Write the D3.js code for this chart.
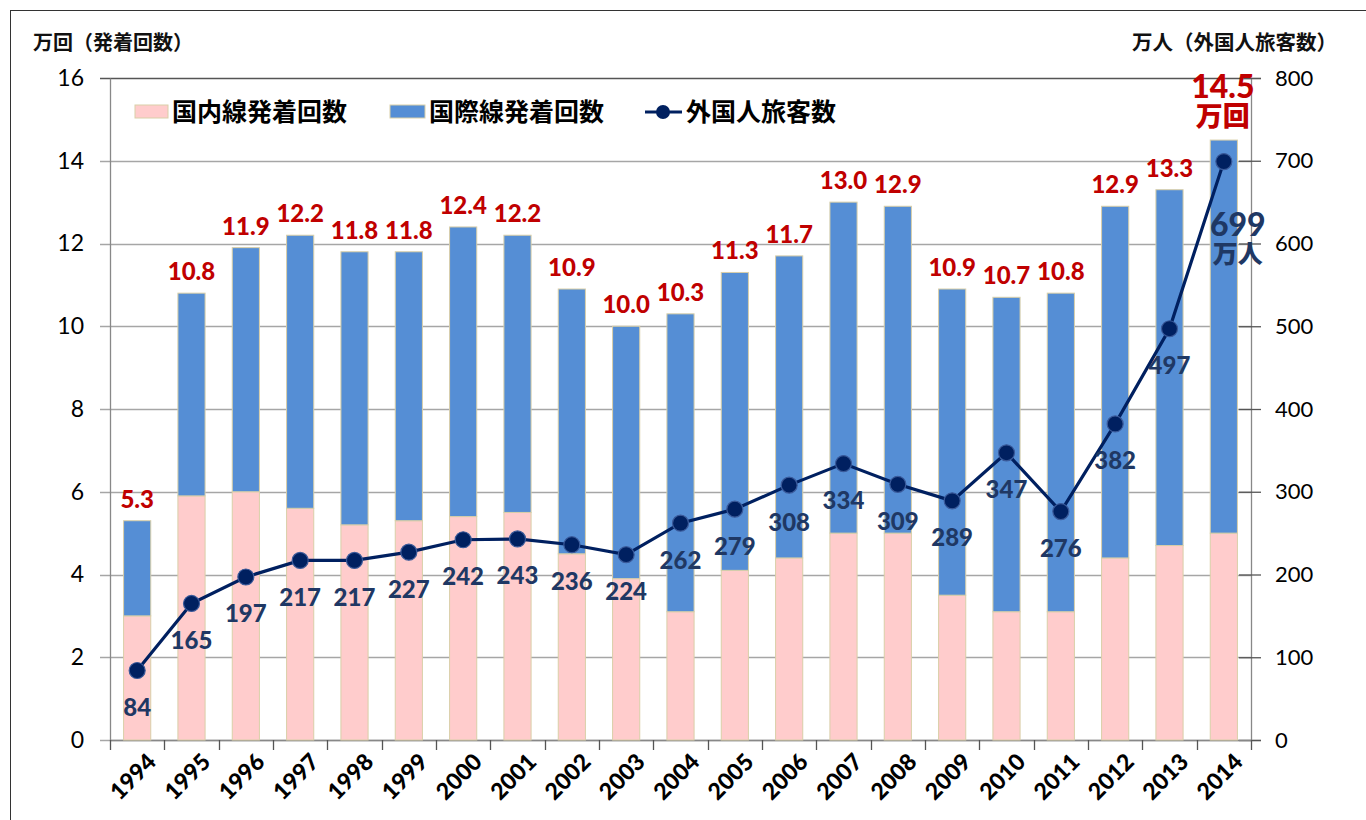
<!DOCTYPE html>
<html>
<head>
<meta charset="utf-8">
<script src="https://cdn.jsdelivr.net/npm/d3@7"></script>
<style>
  body { margin: 0; background: #fff; }
  svg { display: block; }
  text { font-family: Lato, "Noto Sans CJK JP", sans-serif; }
</style>
</head>
<body>
<svg id="chart" width="1366" height="820"></svg>
<script>
// data
var years = ["1994","1995","1996","1997","1998","1999","2000","2001","2002","2003","2004",
             "2005","2006","2007","2008","2009","2010","2011","2012","2013","2014"];
var domestic =      [3.0, 5.9, 6.0, 5.6, 5.2, 5.3, 5.4, 5.5, 4.5, 3.9, 3.1,
                     4.1, 4.4, 5.0, 5.0, 3.5, 3.1, 3.1, 4.4, 4.7, 5.0];
var international = [2.3, 4.9, 5.9, 6.6, 6.6, 6.5, 7.0, 6.7, 6.4, 6.1, 7.2,
                     7.2, 7.3, 8.0, 7.9, 7.4, 7.6, 7.7, 8.5, 8.6, 9.5];
var visitors = [84, 165, 197, 217, 217, 227, 242, 243, 236, 224, 262,
                279, 308, 334, 309, 289, 347, 276, 382, 497, 699];
var leftTicks = [0, 2, 4, 6, 8, 10, 12, 14, 16];
var rightTicks = [0, 100, 200, 300, 400, 500, 600, 700, 800];

var pink = "#ffcccc", blue = "#558ed5", navy = "#002060", red = "#c00000", labelNavy = "#1f3864";

var svg = d3.select("#chart");
var plotLeft = 110, plotRight = 1251, plotTop = 78, plotBottom = 740;

var x = d3.scaleBand().domain(years).range([plotLeft, plotRight]).paddingInner(0.5).paddingOuter(0.25);
var y = d3.scaleLinear().domain([0, 16]).range([plotBottom, plotTop]);
var y2 = d3.scaleLinear().domain([0, 800]).range([plotBottom, plotTop]);

// outer frame
svg.append("rect").attr("x", 10.5).attr("y", 10.5).attr("width", 1400).attr("height", 900)
    .attr("fill", "none").attr("stroke", "#333").attr("stroke-width", 1);

// grid lines
svg.append("g").selectAll("line").data(leftTicks).enter().append("line")
    .attr("x1", plotLeft - 10).attr("x2", plotRight)
    .attr("y1", function(d) { return Math.round(y(d)) + 0.5; })
    .attr("y2", function(d) { return Math.round(y(d)) + 0.5; })
    .attr("stroke", function(d) { return d == 16 ? "#555" : "#a6a6a6"; })
    .attr("stroke-width", 1.3);

// left axis
var gl = svg.append("g").attr("transform", "translate(" + plotLeft + ",0)")
    .call(d3.axisLeft(y).tickValues(leftTicks).tickSize(0).tickPadding(26));
gl.select(".domain").attr("stroke", "#888").attr("stroke-width", 1.3);
gl.selectAll("text").attr("font-size", 23).attr("fill", "#000").attr("font-family", "Lato, sans-serif");

// right axis
var gr = svg.append("g").attr("transform", "translate(" + plotRight + ",0)")
    .call(d3.axisRight(y2).tickValues(rightTicks).tickSize(10).tickPadding(14));
gr.select(".domain").attr("stroke", "#888").attr("stroke-width", 1.3);
gr.selectAll(".tick line").attr("x1", -12).attr("stroke", "#555").attr("stroke-width", 1.3);
gr.selectAll("text").attr("font-size", 22).attr("fill", "#000").attr("font-family", "Lato, sans-serif");

// bottom axis
var step = x.step();
svg.append("line").attr("x1", plotLeft).attr("x2", plotRight)
    .attr("y1", plotBottom + 0.5).attr("y2", plotBottom + 0.5)
    .attr("stroke", "#888").attr("stroke-width", 1.3);
svg.append("g").selectAll("line").data(d3.range(years.length + 1)).enter().append("line")
    .attr("x1", function(i) { return Math.round(plotLeft + i * step) + 0.5; })
    .attr("x2", function(i) { return Math.round(plotLeft + i * step) + 0.5; })
    .attr("y1", plotBottom).attr("y2", plotBottom + 10)
    .attr("stroke", "#555").attr("stroke-width", 1.3);
svg.append("g").selectAll("text").data(years).enter().append("text")
    .attr("transform", function(d) {
        return "translate(" + (x(d) + x.bandwidth() / 2 + 9) + "," + (plotBottom + 12) + ") rotate(-45)";
    })
    .attr("text-anchor", "end").attr("dy", "0.7em")
    .attr("font-size", 23).attr("font-weight", 900).attr("fill", "#000")
    .text(function(d) { return d; });

// stacked bars
var rows = years.map(function(yr, i) {
    return { year: yr, dom: domestic[i], intl: international[i], vis: visitors[i] };
});
var bars = svg.append("g").selectAll("g").data(rows).enter().append("g");
bars.append("rect")
    .attr("x", function(d) { return x(d.year); })
    .attr("width", x.bandwidth())
    .attr("y", function(d) { return y(d.dom); })
    .attr("height", function(d) { return y(0) - y(d.dom); })
    .attr("fill", pink).attr("stroke", "#d9cfa8").attr("stroke-width", 1);
bars.append("rect")
    .attr("x", function(d) { return x(d.year); })
    .attr("width", x.bandwidth())
    .attr("y", function(d) { return y(d.dom + d.intl); })
    .attr("height", function(d) { return y(d.dom) - y(d.dom + d.intl); })
    .attr("fill", blue).attr("stroke", "#d9cfa8").attr("stroke-width", 1);

// total labels
var last = years.length - 1;
svg.append("g").selectAll("text").data(rows.slice(0, last)).enter().append("text")
    .attr("x", function(d) { return x(d.year) + x.bandwidth() / 2; })
    .attr("y", function(d) { return y(d.dom + d.intl) - 13; })
    .attr("text-anchor", "middle").attr("font-size", 24).attr("font-weight", 900)
    .attr("fill", red)
    .text(function(d) { return (d.dom + d.intl).toFixed(1); });
var lastRow = rows[last];
var tl = svg.append("text")
    .attr("x", x(lastRow.year) + x.bandwidth() / 2 - 1)
    .attr("y", 98).attr("text-anchor", "middle")
    .attr("font-size", 32).attr("font-weight", 900).attr("fill", red);
tl.append("tspan").text((lastRow.dom + lastRow.intl).toFixed(1));
tl.append("tspan").attr("x", x(lastRow.year) + x.bandwidth() / 2 - 1).attr("dy", 28)
    .attr("font-family", "'Noto Sans CJK JP', sans-serif").attr("font-size", 27).text("万回");

// visitors line
var cx = function(d) { return x(d.year) + x.bandwidth() / 2; };
svg.append("path").datum(rows)
    .attr("d", d3.line().x(cx).y(function(d) { return y2(d.vis); }))
    .attr("fill", "none").attr("stroke", navy).attr("stroke-width", 3.2);
svg.append("g").selectAll("circle").data(rows).enter().append("circle")
    .attr("cx", cx).attr("cy", function(d) { return y2(d.vis); })
    .attr("r", 8).attr("fill", navy).attr("stroke", "#3a5a9a").attr("stroke-width", 1.2);

svg.append("g").selectAll("text").data(rows.slice(0, last)).enter().append("text")
    .attr("x", cx)
    .attr("y", function(d) { return y2(d.vis) + 37; })
    .attr("dy", "0.35em")
    .attr("text-anchor", "middle").attr("font-size", 24).attr("font-weight", 900)
    .attr("fill", labelNavy)
    .text(function(d) { return d.vis; });
var vl = svg.append("text")
    .attr("x", cx(lastRow) + 14).attr("y", y2(lastRow.vis) + 74)
    .attr("text-anchor", "middle").attr("font-size", 32).attr("font-weight", 900).attr("fill", labelNavy);
vl.append("tspan").text(lastRow.vis);
vl.append("tspan").attr("x", cx(lastRow) + 14).attr("dy", 27)
    .attr("font-family", "'Noto Sans CJK JP', sans-serif").attr("font-size", 25).text("万人");

// axis titles
svg.append("text").attr("x", 33).attr("y", 50)
    .attr("font-family", "'Noto Sans CJK JP', sans-serif").attr("font-size", 20).attr("font-weight", "bold")
    .attr("fill", "#111").text("万回（発着回数）");
svg.append("text").attr("x", 1337).attr("y", 50).attr("text-anchor", "end")
    .attr("font-family", "'Noto Sans CJK JP', sans-serif").attr("font-size", 20.5).attr("font-weight", "bold")
    .attr("fill", "#111").text("万人（外国人旅客数）");

// legend
var lg = svg.append("g").attr("font-family", "'Noto Sans CJK JP', sans-serif")
    .attr("font-size", 25).attr("font-weight", "bold").attr("fill", "#000");
lg.append("rect").attr("x", 135).attr("y", 105).attr("width", 33).attr("height", 13)
    .attr("fill", pink).attr("stroke", "#d9cfa8");
lg.append("text").attr("x", 172).attr("y", 112).attr("dy", "0.36em").text("国内線発着回数");
lg.append("rect").attr("x", 390).attr("y", 105).attr("width", 35).attr("height", 13)
    .attr("fill", blue).attr("stroke", "#d9cfa8");
lg.append("text").attr("x", 429).attr("y", 112).attr("dy", "0.36em").text("国際線発着回数");
lg.append("line").attr("x1", 645).attr("x2", 682).attr("y1", 112).attr("y2", 112)
    .attr("stroke", navy).attr("stroke-width", 3);
lg.append("circle").attr("cx", 663).attr("cy", 112).attr("r", 7).attr("fill", navy);
lg.append("text").attr("x", 686).attr("y", 112).attr("dy", "0.36em").text("外国人旅客数");
</script>
</body>
</html>
